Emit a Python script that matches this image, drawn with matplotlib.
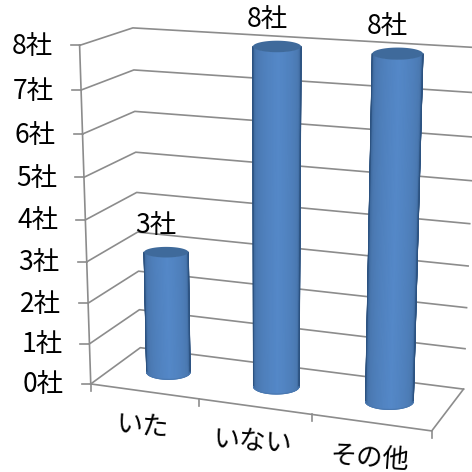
import numpy as np
import matplotlib
matplotlib.use('Agg')
import matplotlib.pyplot as plt
from matplotlib.colors import LinearSegmentedColormap
from matplotlib.patches import Polygon

plt.rcParams['font.family'] = ['Noto Sans CJK JP', 'DejaVu Sans']

categories = ['いた', 'いない', 'その他']
values = [3, 8, 8]
y_ticks = [0, 1, 2, 3, 4, 5, 6, 7, 8]
y_labels = ['0社', '1社', '2社', '3社', '4社', '5社', '6社', '7社', '8社']

# camera calibration: chart box (u, v, z) -> pixel
box_pts = [(0, 0, 0), (1, 0, 0), (1, 1, 0), (0, 1, 0), (0, 0, 8), (0, 1, 8), (1, 1, 8),
           (0.5, 0.5, 8), (5 / 6, 0.5, 8), (1 / 6, 0.5, 3), (1 / 6, 0.5, 0), (0.5, 0.5, 0), (5 / 6, 0.5, 0)]
px_pts = [(91, 384), (432, 431), (463, 388), (140, 348), (80, 44), (133, 28), (478, 47),
          (276, 48), (396, 54), (167, 252), (168, 372), (276, 387), (390, 402)]


def fit_camera(box, px):
    rows = []
    for (u, v, z), (x, y) in zip(box, px):
        rows.append([u, v, z, 1, 0, 0, 0, 0, -x * u, -x * v, -x * z, -x])
        rows.append([0, 0, 0, 0, u, v, z, 1, -y * u, -y * v, -y * z, -y])
    return np.linalg.svd(np.array(rows, dtype=float))[2][-1].reshape(3, 4)


P = fit_camera(box_pts, px_pts)


def project(u, v, z):
    p = P @ np.array([u, v, z, 1.0])
    return p[:2] / p[2]


GRID = '#8c8c8c'
TOP = '#3f6a9b'
EDGE = '#2c5280'
shade = LinearSegmentedColormap.from_list('cyl', [EDGE, '#4a78b0', '#5488c8'])


def ellipse_pts(c, a, b, t):
    return np.column_stack([c[0] + a * np.cos(t), c[1] + b * np.sin(t)])


def draw_cylinder(ax, u, val):
    bot, top = project(u, 0.5, 0), project(u, 0.5, val)
    a_bot = np.linalg.norm(project(u + 0.068, 0.5, 0) - project(u - 0.068, 0.5, 0)) / 2
    a_top = np.linalg.norm(project(u + 0.068, 0.5, val) - project(u - 0.068, 0.5, val)) / 2
    t = np.linspace(np.pi, 0, 61)
    lo = ellipse_pts(bot, a_bot, a_bot * 0.33, t)
    hi = ellipse_pts(top, a_top, a_top * 0.24, t)
    s = np.linspace(0, 1, len(t))
    k = np.clip(1 - np.abs(s - 0.52) / 0.48, 0, 1) ** 0.55
    X = np.vstack([lo[:, 0], hi[:, 0]])
    Y = np.vstack([lo[:, 1], hi[:, 1]])
    ax.pcolormesh(X, Y, np.vstack([k, k]), cmap=shade, vmin=0, vmax=1, shading='gouraud', zorder=3)
    # gouraud mesh has no antialiasing, so soften the outline
    ax.plot(X[:, 0], Y[:, 0], color=EDGE, lw=0.8, zorder=3.5)
    ax.plot(X[:, -1], Y[:, -1], color=EDGE, lw=0.8, zorder=3.5)
    ax.plot(lo[:, 0], lo[:, 1], color='#4a78b0', lw=0.8, zorder=3.5)
    full = np.linspace(0, 2 * np.pi, 80)
    ax.add_patch(Polygon(ellipse_pts(top, a_top, a_top * 0.24, full), closed=True, fc=TOP, ec='none', zorder=4))
    return top


fig = plt.figure(figsize=(4.72, 4.72), dpi=100)
ax = fig.add_axes([0, 0, 1, 1])
ax.axis('off')

# walls
for z, lab in zip(y_ticks, y_labels):
    line = np.array([project(0, 0, z), project(0, 1, z), project(1, 1, z)])
    ax.plot(line[:, 0], line[:, 1], color=GRID, lw=1.2, zorder=1)
    ax.plot([line[0, 0] - 9, line[0, 0]], [line[0, 1]] * 2, color=GRID, lw=1.2, zorder=1)
    ax.text(line[0, 0] - 27, line[0, 1] + 1, lab, ha='right', va='center', fontsize=19, color='black')

axis_line = np.array([project(0, 0, 0), project(0, 0, 8)])
ax.plot(axis_line[:, 0], axis_line[:, 1], color=GRID, lw=1.2, zorder=1)

# floor
floor = np.array([project(0, 0, 0), project(1, 0, 0), project(1, 1, 0)])
ax.plot(floor[:, 0], floor[:, 1], color=GRID, lw=1.2, zorder=2)
for k in range(4):
    tx, ty = project(k / 3, 0, 0)
    ax.plot([tx, tx], [ty, ty + 7], color=GRID, lw=1.2, zorder=2)

# bars, labels
for i, (cat, val) in enumerate(zip(categories, values)):
    u = (i + 0.5) / 3
    top = draw_cylinder(ax, u, val)
    ax.text(top[0] - 10, top[1] - 27, '%d社' % val, ha='center', va='center', fontsize=19, color='black', zorder=5)
    fx, fy = project(u, 0, 0)
    ax.text(fx - 2, fy + 36, cat, ha='center', va='center', fontsize=19, rotation=-4, color='black')

ax.set_xlim(0, 472)
ax.set_ylim(472, 0)
plt.savefig('out.png', dpi=100)
plt.close()
